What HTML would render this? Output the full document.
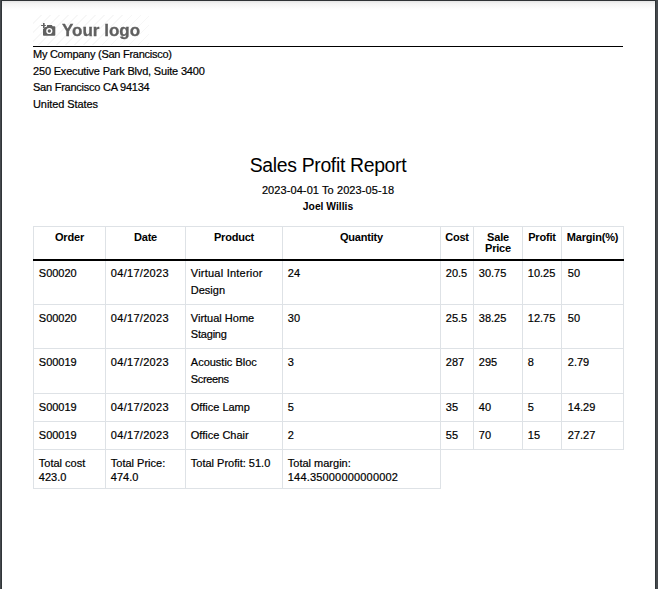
<!DOCTYPE html>
<html><head><meta charset="utf-8">
<style>
html,body{margin:0;padding:0;background:#fff;}
body{width:658px;height:589px;overflow:hidden;position:relative;font-family:"Liberation Sans",sans-serif;color:#000;-webkit-text-stroke:0.2px #000;}
.fl{position:absolute;left:0;top:0;width:2px;height:589px;background:linear-gradient(90deg,#45494d 50%,#303538 50%);}
.fr{position:absolute;right:0;top:0;width:3px;height:589px;background:linear-gradient(90deg,#303538 33.3%,#45494d 33.3%);}
.ft{position:absolute;left:0;top:0;width:658px;height:1px;background:#2e3235;}
.fs{position:absolute;left:2px;top:1px;width:653px;height:9px;background:linear-gradient(#e4e4e4,#f4f4f4 30%,#fff);}
.abs{position:absolute;white-space:nowrap;}
.logo{position:absolute;left:33px;top:15px;width:116px;height:30px;
 background:repeating-linear-gradient(135deg,#fff 0,#fff 5.3px,#f7f7f7 5.3px,#f7f7f7 6.4px);}
.logotxt{position:absolute;left:62px;top:19px;font-weight:bold;font-size:17px;line-height:24px;color:#606060;letter-spacing:0;-webkit-text-stroke:0.3px #606060;will-change:transform;}
.hr{position:absolute;left:33px;top:46px;width:590px;height:1px;background:#000;}
.addr{position:absolute;left:33px;top:46px;font-size:11px;line-height:16.6px;}
.title{position:absolute;left:-1px;width:658px;text-align:center;}
table{position:absolute;left:33px;top:226px;width:591px;border-collapse:collapse;table-layout:fixed;font-size:11px;}
td,th{border:1px solid #dee2e6;padding:5px 0 0 4.8px;vertical-align:top;white-space:nowrap;overflow:visible;}
th{font-weight:bold;text-align:center;line-height:11.1px;padding:5px 0 0 0;letter-spacing:-0.2px;-webkit-text-stroke:0;}
.r1 td{padding-top:4.5px;line-height:17px;}
.r2 td{line-height:16px;}
.tot td{line-height:14px;padding-top:6.3px;}
.dt{letter-spacing:0.3px;}
td:nth-child(8){padding-left:5.8px;}
td{line-height:16.6px;}
</style></head><body>
<div class="ft"></div><div class="fs"></div><div class="fl"></div><div class="fr"></div>
<div class="logo"></div>
<svg class="abs" style="left:38px;top:20px" width="22" height="20" viewBox="0 0 22 20">
 <path fill="#606060" d="M5 9L7.2 6.9H8.6L9.2 5H13.9L14.6 6.2H16.5Q17.3 6.2 17.3 7V15Q17.3 15.8 16.5 15.8H5.8Q5 15.8 5 15Z"/>
 <circle cx="11.3" cy="11" r="3.1" fill="#fff"/><circle cx="11.3" cy="11" r="1.65" fill="#606060"/>
 <path fill="#606060" d="M3.1 5h4.7v1H3.1zM5 2.9h1.6v5.1H5z"/>
</svg>
<div class="abs logotxt">Your logo</div>
<div class="hr"></div>
<div class="addr"><span style="letter-spacing:-0.26px">My Company (San Francisco)</span><br><span style="letter-spacing:-0.18px">250 Executive Park Blvd, Suite 3400</span><br><span style="letter-spacing:-0.24px">San Francisco CA 94134</span><br><span style="letter-spacing:-0.08px">United States</span></div>
<div class="title" style="top:153px;font-size:19.4px;line-height:24px;letter-spacing:-0.33px;-webkit-text-stroke:0;">Sales Profit Report</div>
<div class="title" style="top:182px;font-size:11px;line-height:16px;letter-spacing:0.09px;">2023-04-01 To 2023-05-18</div>
<div class="title" style="top:200px;font-size:10.3px;line-height:14px;font-weight:bold;-webkit-text-stroke:0;">Joel Willis</div>
<table>
<colgroup><col style="width:72px"><col style="width:80px"><col style="width:97px"><col style="width:158px"><col style="width:33px"><col style="width:49px"><col style="width:39px"><col style="width:62px"></colgroup>
<tr style="height:33px;border-bottom:2px solid #000"><th>Order</th><th>Date</th><th>Product</th><th>Quantity</th><th>Cost</th><th>Sale<br>Price</th><th>Profit</th><th>Margin(%)</th></tr>
<tr style="height:45px" class="r1"><td>S00020</td><td class="dt">04/17/2023</td><td><span style="letter-spacing:0.23px">Virtual Interior</span><br>Design</td><td>24</td><td>20.5</td><td>30.75</td><td>10.25</td><td>50</td></tr>
<tr style="height:44px" class="r2"><td>S00020</td><td class="dt">04/17/2023</td><td>Virtual Home<br><span style="letter-spacing:-0.2px">Staging</span></td><td>30</td><td>25.5</td><td>38.25</td><td>12.75</td><td>50</td></tr>
<tr style="height:45px"><td>S00019</td><td class="dt">04/17/2023</td><td>Acoustic Bloc<br><span style="letter-spacing:-0.35px">Screens</span></td><td>3</td><td>287</td><td>295</td><td>8</td><td>2.79</td></tr>
<tr style="height:28px"><td>S00019</td><td class="dt">04/17/2023</td><td>Office Lamp</td><td>5</td><td>35</td><td>40</td><td>5</td><td>14.29</td></tr>
<tr style="height:28px"><td>S00019</td><td class="dt">04/17/2023</td><td>Office Chair</td><td>2</td><td>55</td><td>70</td><td>15</td><td>27.27</td></tr>
<tr style="height:39px" class="tot"><td>Total cost<br>423.0</td><td>Total Price:<br>474.0</td><td>Total Profit: 51.0</td><td>Total margin:<br><span style="letter-spacing:0.18px">144.35000000000002</span></td><td style="border:none"></td><td style="border:none"></td><td style="border:none"></td><td style="border:none"></td></tr>
</table>
</body></html>
